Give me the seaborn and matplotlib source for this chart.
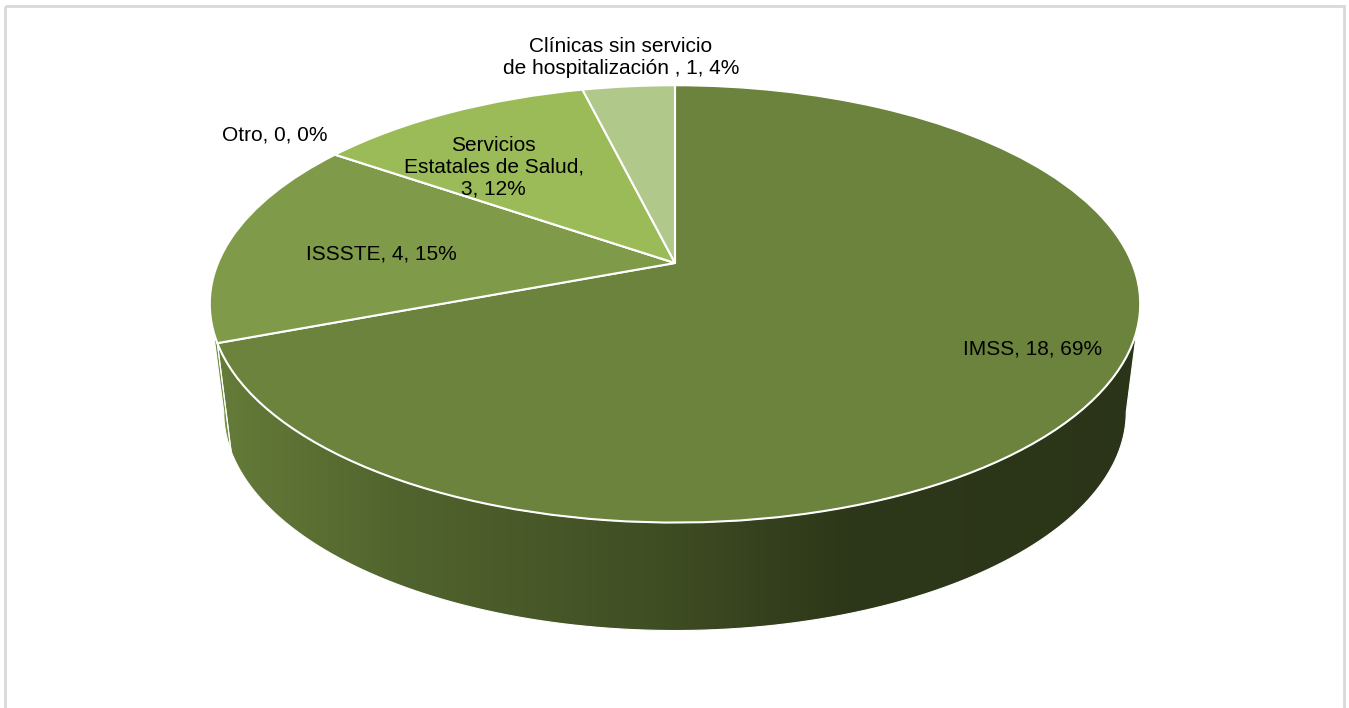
import numpy as np
import matplotlib
matplotlib.use("Agg")
import matplotlib.pyplot as plt
import matplotlib.transforms as mtransforms
from matplotlib.patches import Polygon, Rectangle
from matplotlib.colors import to_rgb
import seaborn as sns

# Data
names = ["IMSS", "ISSSTE", "Otro", "Servicios\nEstatales de Salud",
         "Clínicas sin servicio\nde hospitalización "]
counts = [18, 4, 0, 3, 1]
seps = [" ", " ", " ", "\n", " "]
colors = ["#6b833c", "#7f9a48", "#7f9a48", "#9bbb59", "#b0c98a"]
# label placement: radius and angle nudge (deg) from the slice middle
label_r = [0.82, 0.65, 1.2, 0.66, 1.2]
label_dt = [7, 3, 0, 6.5, 0]

sns.set_theme(style="white")
plt.rcParams["font.family"] = ["Liberation Sans", "DejaVu Sans"]

W, H = 1349, 708
fig = plt.figure(figsize=(W / 100, H / 100), dpi=100)
ax = fig.add_axes([0, 0, 1, 1])

# tilted disc seen in perspective (Excel 3-D pie look)
TILT = 0.187
CX, CY, SX, SY = 675, 263, 457, 211
DEPTH, SHRINK = 108, 0.97


class Tilt(mtransforms.Transform):
    input_dims = output_dims = 2

    def transform_non_affine(self, xy):
        xy = np.asarray(xy, float)
        w = 1 + TILT * xy[:, 1]
        return np.column_stack([xy[:, 0] / w, xy[:, 1] / w])


to_px = Tilt() + mtransforms.Affine2D().scale(SX, -SY).translate(CX, CY)

wedges, _ = ax.pie(counts, colors=colors, startangle=90, counterclock=False,
                   wedgeprops=dict(edgecolor="white", linewidth=1.5))
for w in wedges:
    w.set_transform(to_px + ax.transData)
    w.set_zorder(3)

# visible front side between the silhouette points
lim = np.degrees(np.arcsin(TILT))
L, R = 180 + lim, 360 - lim


def shade(x):
    return np.interp(x, [210, 400, 650, 850, 1140], [0.95, 0.76, 0.6, 0.42, 0.40])


for w, col in zip(wedges, colors):
    for k in (-360, 0, 360):
        lo, hi = max(w.theta1, L + k), min(w.theta2, R + k)
        if hi <= lo:
            continue
        t = np.radians(np.linspace(lo, hi, 120))
        top = to_px.transform(np.column_stack([np.cos(t), np.sin(t)]))
        bot = np.column_stack([CX + SHRINK * (top[:, 0] - CX), top[:, 1] + DEPTH])
        pts = np.vstack([top, bot[::-1]])
        poly = Polygon(pts, closed=True, facecolor="none", edgecolor="white",
                       lw=0.8, zorder=2)
        ax.add_patch(poly)
        x0, x1 = pts[:, 0].min(), pts[:, 0].max()
        y0, y1 = pts[:, 1].min(), pts[:, 1].max()
        xs = np.linspace(x0, x1, 300)
        img = np.clip(np.array(to_rgb(col))[None, None, :] * shade(xs)[None, :, None], 0, 1)
        im = ax.imshow(img, extent=(x0, x1, y1, y0), aspect="auto",
                       interpolation="bilinear", zorder=1)
        im.set_clip_path(poly)

# data labels
total = sum(counts)
for w, name, sep, n, r, dt in zip(wedges, names, seps, counts, label_r, label_dt):
    mid = np.radians((w.theta1 + w.theta2) / 2 + dt)
    px, py = to_px.transform([[r * np.cos(mid), r * np.sin(mid)]])[0]
    ax.text(px, py, f"{name},{sep}{n}, {round(100 * n / total)}%",
            ha="center", va="center", multialignment="center",
            fontsize=15, color="black", zorder=5)

ax.add_patch(Rectangle((5, 6), 1339, 720, fill=False, edgecolor="#d9d9d9",
                       lw=2, clip_on=False, zorder=6))

ax.set_xlim(0, W)
ax.set_ylim(H, 0)
ax.set_aspect("auto")
ax.axis("off")

fig.savefig("out.png", dpi=100)
